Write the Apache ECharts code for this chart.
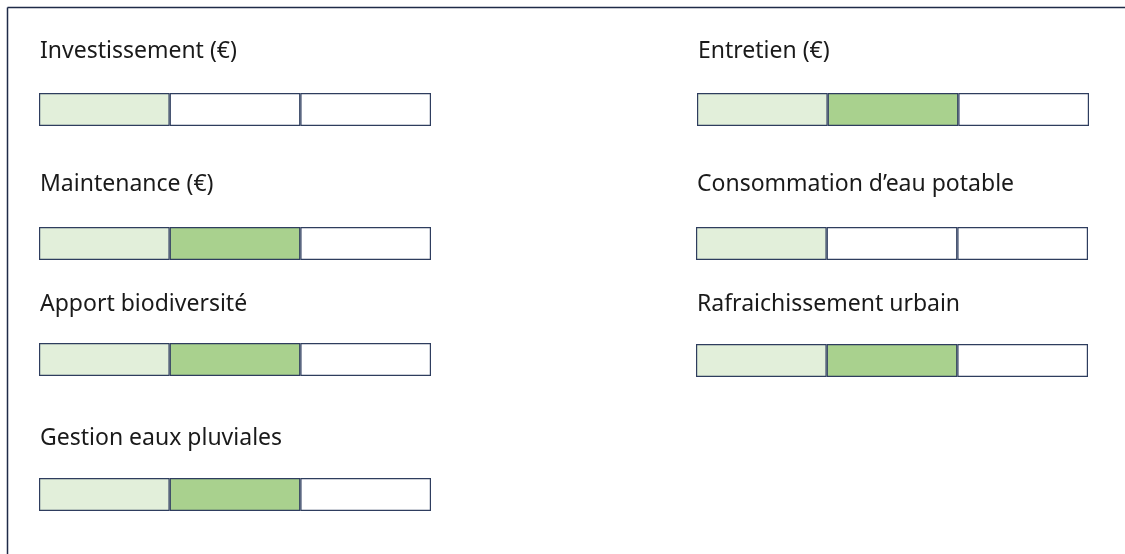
<!DOCTYPE html>
<html>
<head>
<meta charset="utf-8">
<script src="https://cdn.jsdelivr.net/npm/echarts@6/dist/echarts.min.js"></script>
<style>
  html, body { margin: 0; padding: 0; background: #fff; }
  #main { width: 1125px; height: 554px; }
</style>
</head>
<body>
<div id="main"></div>
<script>
(function() {
    // indicateurs et niveau (nombre de cases remplies sur 3)
    var names = ['Investissement (€)', 'Maintenance (€)', 'Apport biodiversité', 'Gestion eaux pluviales',
                 'Entretien (€)', 'Consommation d\u2019eau potable', 'Rafraichissement urbain'];
    var levels = [1, 2, 2, 2, 2, 1, 2];
    var steps = [1, 2, 3];

    // mise en page
    var colLeft = [39, 39, 39, 39, 697, 696, 696];
    var barTop = [93, 227, 343, 478, 93, 227, 344];
    var titleTop = [40, 173, 293, 427, 40, 173, 293];
    var fillColors = ['#E2EFDA', '#A9D18E', '#70AD47'];
    var edge = '#2E3D5E';

    var myChart = echarts.init(document.getElementById('main'));

    var grids = [], xAxes = [], yAxes = [], series = [], titles = [];
    names.forEach(function(name, i) {
        grids.push({ left: colLeft[i], top: barTop[i], width: 392, height: 33 });
        xAxes.push({ gridIndex: i, type: 'value', min: 0, max: steps.length, show: false });
        yAxes.push({ gridIndex: i, type: 'category', data: [name], show: false });
        titles.push({
            text: name, left: colLeft[i] + 1, top: titleTop[i], padding: 0,
            textStyle: { fontFamily: 'Noto Sans', fontWeight: 'normal', fontSize: 23, color: '#1a1a1a' }
        });
        steps.forEach(function(s, k) {
            series.push({
                type: 'bar',
                stack: 'ind' + i,
                xAxisIndex: i,
                yAxisIndex: i,
                barWidth: '100%',
                silent: true,
                data: [{
                    value: 1,
                    itemStyle: { color: s <= levels[i] ? fillColors[k] : '#ffffff' }
                }],
                itemStyle: { borderColor: edge, borderWidth: 1.2 }
            });
        });
    });

    var option = {
        backgroundColor: '#ffffff',
        animation: false,
        title: titles,
        grid: grids,
        xAxis: xAxes,
        yAxis: yAxes,
        series: series,
        graphic: [
            { type: 'line', shape: { x1: 7.5, y1: 7.5, x2: 1125, y2: 7.5 }, style: { stroke: '#1F2B48', lineWidth: 1.5 } },
            { type: 'line', shape: { x1: 7.5, y1: 7.5, x2: 7.5, y2: 554 }, style: { stroke: '#1F2B48', lineWidth: 1.5 } }
        ]
    };

    myChart.setOption(option);
})();
</script>
</body>
</html>
